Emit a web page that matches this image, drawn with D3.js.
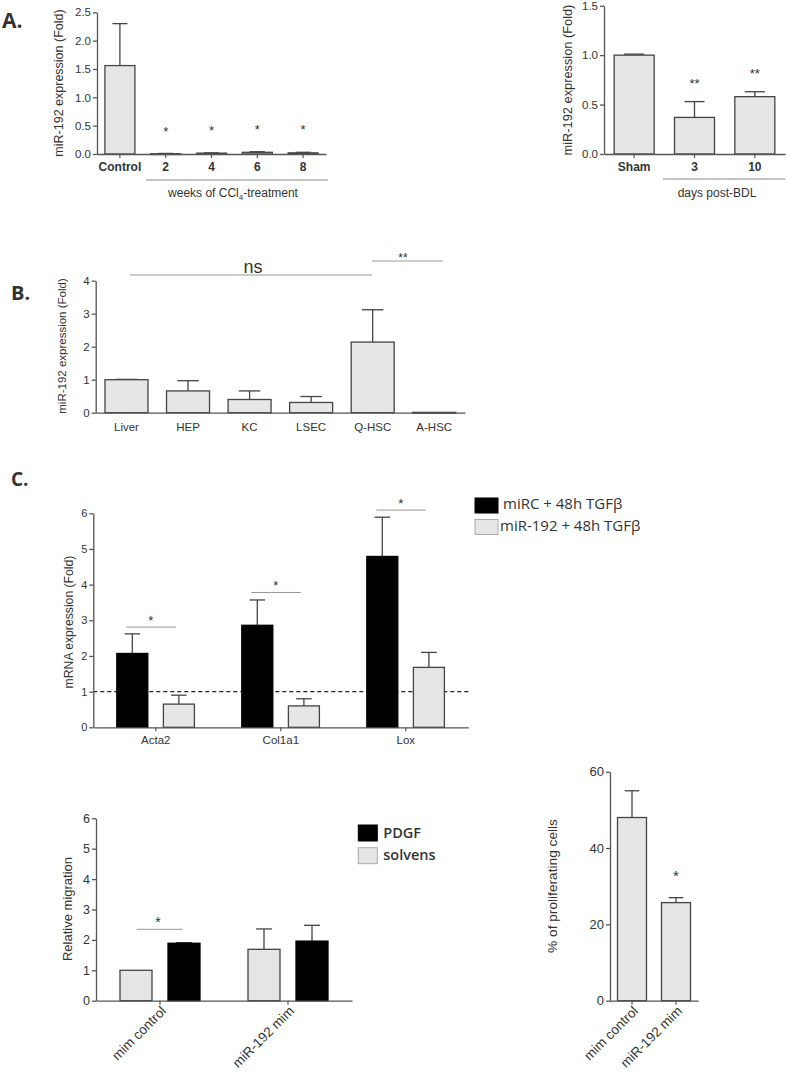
<!DOCTYPE html>
<html><head><meta charset="utf-8">
<script src="https://cdn.jsdelivr.net/npm/d3@7"></script>
<style>
body{margin:0;background:#fff;}
svg{display:block;}
text{font-family:"Liberation Sans",Arial,sans-serif;fill:#333;}
</style></head>
<body><svg id="c" width="787" height="1080"></svg>
<script>
// ---------- DATA ----------
// Panel A left
const aLCats = ["Control","2","4","6","8"];
const aLVals = [1.56,0.005,0.015,0.03,0.02];
const aLErr  = [2.30,0.010,0.020,0.040,0.030];
const aLSig  = ["","*","*","*","*"];
const aLTicks = [0,0.5,1.0,1.5,2.0,2.5];
// Panel A right
const aRCats = ["Sham","3","10"];
const aRVals = [1.00,0.37,0.58];
const aRErr  = [1.01,0.53,0.63];
const aRSig  = ["","**","**"];
const aRTicks = [0,0.5,1.0,1.5];
// Panel B
const bCats = ["Liver","HEP","KC","LSEC","Q-HSC","A-HSC"];
const bVals = [1.00,0.66,0.40,0.31,2.14,0.01];
const bErr  = [1.01,0.97,0.66,0.49,3.12,0.01];
const bTicks = [0,1,2,3,4];
// Panel C top
const cTCats = ["Acta2","Col1a1","Lox"];
const cTMiRC = [2.07,2.86,4.79];
const cTMiRCErr = [2.62,3.57,5.89];
const cTMiR192 = [0.65,0.60,1.68];
const cTMiR192Err = [0.90,0.80,2.10];
const cTSigY = [2.81,3.78,6.09];
const cTTicks = [0,1,2,3,4,5,6];
const cTLegend = ["miRC + 48h TGFβ","miR-192 + 48h TGFβ"];
// Panel C bottom left
const cMCats = ["mim control","miR-192 mim"];
const cMSolvens = [1.00,1.69];
const cMSolvensErr = [1.00,2.36];
const cMPDGF = [1.89,1.96];
const cMPDGFErr = [1.91,2.48];
const cMTicks = [0,1,2,3,4,5,6];
const cMLegend = ["PDGF","solvens"];
// Panel C bottom right
const cPCats = ["mim control","miR-192 mim"];
const cPVals = [48.0,25.7];
const cPErr  = [55.0,27.0];
const cPSig  = ["","*"];
const cPTicks = [0,20,40,60];

// ---------- DRAW ----------
const svg = d3.select("#c");
const LIGHT = "#e6e6e6", DARK = "#000", LINE = "#444", AX = "#555";

function axes(g, x, y, o) {
  const ya = g.append("g").attr("transform",`translate(${o.x0},0)`)
    .call(d3.axisLeft(y).tickValues(o.ticks).tickFormat(o.fmt).tickSize(4).tickSizeOuter(0));
  ya.selectAll("path,line").attr("stroke",AX).attr("stroke-width",1.3);
  ya.selectAll("text").style("font-size",o.tickFs+"px").attr("fill","#333").attr("x",-6);
  const xa = g.append("g").attr("transform",`translate(0,${o.y0})`)
    .call(d3.axisBottom(x).tickSize(o.xTick).tickSizeOuter(0).tickFormat(o.xFmt || (d=>d)));
  xa.select("path").attr("stroke",AX).attr("stroke-width",1.3);
  xa.selectAll("line").attr("stroke",AX).attr("stroke-width",1.2);
  xa.selectAll("text").style("font-size",o.xFs+"px").style("font-weight",o.xW||"normal").attr("fill","#333").attr("y",o.xDy||8);
  return xa;
}
function bars(g, cx, y, vals, errs, bw, fill, y0) {
  vals.forEach((v,i)=>{
    const c = cx(i);
    if (errs && errs[i] > v) {
      g.append("line").attr("x1",c).attr("x2",c).attr("y1",y(v)).attr("y2",y(errs[i])).attr("stroke",LINE).attr("stroke-width",1.3);
      g.append("line").attr("x1",c-bw*0.25).attr("x2",c+bw*0.25).attr("y1",y(errs[i])).attr("y2",y(errs[i])).attr("stroke",LINE).attr("stroke-width",1.3);
    }
    g.append("rect").attr("x",c-bw/2).attr("y",y(v)).attr("width",bw).attr("height",Math.max(y0-y(v),0.8))
      .attr("fill",fill).attr("stroke",fill===DARK?"#000":LINE).attr("stroke-width",1.3);
  });
}
function ylabel(g, x, cy, txt, fs) {
  g.append("text").attr("transform",`translate(${x},${cy}) rotate(-90)`).attr("text-anchor","middle")
    .style("font-size",fs+"px").text(txt);
}
function letter(x,y,t,fs){
  svg.append("text").attr("x",x).attr("y",y).style("font-family","'Open Sans',sans-serif").style("font-weight","bold")
    .style("font-size",fs+"px").attr("fill","#111").text(t);
}

// ---- Panel A left ----
{
  const g = svg.append("g");
  const o = {x0:97,x1:326,y0:154,y1:12.3,ticks:aLTicks,fmt:d3.format(".1f"),tickFs:11.5,xTick:4,xFs:12,xW:"bold"};
  const y = d3.scaleLinear().domain([0,2.5]).range([o.y0,o.y1]);
  const x = d3.scaleBand().domain(aLCats).range([o.x0,o.x1]);
  const cx = i => x(aLCats[i]) + x.bandwidth()/2;
  bars(g,cx,y,aLVals,aLErr,30,LIGHT,o.y0);
  axes(g,x,y,o);
  aLSig.forEach((s,i)=>{ if(s) g.append("text").attr("x",cx(i)).attr("y",y(aLErr[i]+0.42)+6).attr("text-anchor","middle").style("font-size","13px").text(s); });
  ylabel(g,63,83,"miR-192 expression (Fold)",12.5);
  g.append("line").attr("x1",146).attr("x2",328).attr("y1",180).attr("y2",180).attr("stroke","#888").attr("stroke-width",1);
  const t = g.append("text").attr("x",233).attr("y",197).attr("text-anchor","middle").style("font-size","12px").attr("fill","#555");
  t.append("tspan").text("weeks of CCl");
  t.append("tspan").attr("dy",3).style("font-size","8px").text("4");
  t.append("tspan").attr("dy",-3).text("-treatment");
}
// ---- Panel A right ----
{
  const g = svg.append("g");
  const o = {x0:604,x1:785,y0:154,y1:5.7,ticks:aRTicks,fmt:d3.format(".1f"),tickFs:11.5,xTick:4,xFs:12,xW:"bold"};
  const y = d3.scaleLinear().domain([0,1.5]).range([o.y0,o.y1]);
  const x = d3.scaleBand().domain(aRCats).range([o.x0,o.x1]);
  const cx = i => x(aRCats[i]) + x.bandwidth()/2;
  bars(g,cx,y,aRVals,aRErr,40,LIGHT,o.y0);
  axes(g,x,y,o);
  aRSig.forEach((s,i)=>{ if(s) g.append("text").attr("x",cx(i)).attr("y",y(aRErr[i])-14).attr("text-anchor","middle").style("font-size","13px").attr("fill","#444").text(s); });
  ylabel(g,572,80,"miR-192 expression (Fold)",12.8);
  g.append("line").attr("x1",663).attr("x2",785).attr("y1",179).attr("y2",179).attr("stroke","#888").attr("stroke-width",1);
  g.append("text").attr("x",717).attr("y",197).attr("text-anchor","middle").style("font-size","12px").attr("fill","#555").text("days post-BDL");
}
letter(2,28,"A.",21);

// ---- Panel B ----
{
  const g = svg.append("g");
  const o = {x0:95.7,x1:465,y0:412.7,y1:280.7,ticks:bTicks,fmt:d3.format("d"),tickFs:11.5,xTick:0,xFs:11.5,xDy:10};
  const y = d3.scaleLinear().domain([0,4]).range([o.y0,o.y1]);
  const x = d3.scaleBand().domain(bCats).range([o.x0,o.x1]);
  const cx = i => x(bCats[i]) + x.bandwidth()/2;
  bars(g,cx,y,bVals,bErr,43,LIGHT,o.y0);
  axes(g,x,y,o);
  ylabel(g,66,346,"miR-192 expression (Fold)",11.5);
  g.append("line").attr("x1",130).attr("x2",372).attr("y1",275).attr("y2",275).attr("stroke","#999").attr("stroke-width",1);
  g.append("text").attr("x",253).attr("y",273).attr("text-anchor","middle").style("font-size","18px").attr("fill","#555").text("ns");
  g.append("line").attr("x1",372).attr("x2",443).attr("y1",261).attr("y2",261).attr("stroke","#999").attr("stroke-width",1);
  g.append("text").attr("x",403).attr("y",262).attr("text-anchor","middle").style("font-size","12px").attr("fill","#555").text("**");
}
letter(11,300,"B.",20);

// ---- Panel C top ----
{
  const g = svg.append("g");
  const o = {x0:93.3,x1:468.3,y0:727.3,y1:513.3,ticks:cTTicks,fmt:d3.format("d"),tickFs:11,xTick:4,xFs:11.5,xDy:9};
  const y = d3.scaleLinear().domain([0,6]).range([o.y0,o.y1]);
  const x = d3.scaleBand().domain(cTCats).range([o.x0,o.x1]);
  const gc = i => x(cTCats[i]) + x.bandwidth()/2;
  g.append("line").attr("x1",o.x0).attr("x2",o.x1).attr("y1",y(1)).attr("y2",y(1)).attr("stroke","#222").attr("stroke-width",1.1).attr("stroke-dasharray","4,3");
  bars(g,i=>gc(i)-23.5,y,cTMiRC,cTMiRCErr,31,DARK,o.y0);
  bars(g,i=>gc(i)+23.1,y,cTMiR192,cTMiR192Err,31,LIGHT,o.y0);
  axes(g,x,y,o);
  cTSigY.forEach((v,i)=>{
    g.append("line").attr("x1",gc(i)-29.4).attr("x2",gc(i)+20).attr("y1",y(v)).attr("y2",y(v)).attr("stroke","#999").attr("stroke-width",1);
    g.append("text").attr("x",gc(i)-5).attr("y",y(v)-2).attr("text-anchor","middle").style("font-size","13px").text("*");
  });
  ylabel(g,73,622,"mRNA expression (Fold)",12.2);
  // legend
  const lg = svg.append("g");
  [DARK,LIGHT].forEach((f,i)=>{
    lg.append("rect").attr("x",475).attr("y",498+i*21.5).attr("width",23).attr("height",15).attr("fill",f).attr("stroke",f===DARK?"#000":"#aaa");
  });
  lg.append("text").attr("x",503).attr("y",509).style("font-family","'Open Sans',sans-serif").style("font-size","15px").attr("fill","#222").text(cTLegend[0]);
  lg.append("text").attr("x",500).attr("y",531).style("font-family","'Open Sans',sans-serif").style("font-size","15px").attr("fill","#222").text(cTLegend[1]);
}
letter(11,486,"C.",19);

// ---- Panel C bottom left ----
{
  const g = svg.append("g");
  const o = {x0:96,x1:352,y0:1000.7,y1:818.3,ticks:cMTicks,fmt:d3.format("d"),tickFs:12.5,xTick:4,xFs:13.5,xDy:8};
  const y = d3.scaleLinear().domain([0,6]).range([o.y0,o.y1]);
  const x = d3.scaleBand().domain(cMCats).range([o.x0,o.x1]);
  const gc = i => x(cMCats[i]) + x.bandwidth()/2;
  bars(g,i=>gc(i)-24,y,cMSolvens,cMSolvensErr,32,LIGHT,o.y0);
  bars(g,i=>gc(i)+24,y,cMPDGF,cMPDGFErr,32,DARK,o.y0);
  const xa = axes(g,x,y,o);
  xa.selectAll("text").attr("text-anchor","end").attr("transform","rotate(-45)").attr("x",-3).attr("y",8).attr("dy","0.35em");
  g.append("line").attr("x1",136.7).attr("x2",182.7).attr("y1",929.3).attr("y2",929.3).attr("stroke","#999").attr("stroke-width",1);
  g.append("text").attr("x",158).attr("y",927).attr("text-anchor","middle").style("font-size","14px").text("*");
  ylabel(g,72,909,"Relative migration",13);
  const lg = svg.append("g");
  [DARK,LIGHT].forEach((f,i)=>{
    lg.append("rect").attr("x",358.3).attr("y",825+i*22.7).attr("width",19).attr("height",16).attr("fill",f).attr("stroke",f===DARK?"#000":"#aaa");
  });
  lg.append("text").attr("x",383.3).attr("y",838).style("font-family","'Open Sans',sans-serif").style("font-weight","600").style("font-size","14.5px").attr("fill","#222").text(cMLegend[0]);
  lg.append("text").attr("x",383.3).attr("y",860).style("font-family","'Open Sans',sans-serif").style("font-weight","600").style("font-size","14.5px").attr("fill","#222").text(cMLegend[1]);
}

// ---- Panel C bottom right ----
{
  const g = svg.append("g");
  const o = {x0:610,x1:698,y0:1000.7,y1:771.7,ticks:cPTicks,fmt:d3.format("d"),tickFs:13,xTick:4,xFs:13.5,xDy:8};
  const y = d3.scaleLinear().domain([0,60]).range([o.y0,o.y1]);
  const x = d3.scaleBand().domain(cPCats).range([o.x0,o.x1]);
  const cx = i => x(cPCats[i]) + x.bandwidth()/2;
  bars(g,cx,y,cPVals,cPErr,29,LIGHT,o.y0);
  const xa = axes(g,x,y,o);
  xa.selectAll("text").attr("text-anchor","end").attr("transform","rotate(-45)").attr("x",-3).attr("y",8).attr("dy","0.35em");
  cPSig.forEach((s,i)=>{ if(s) g.append("text").attr("x",cx(i)).attr("y",y(cPErr[i])-17).attr("text-anchor","middle").style("font-size","15px").text(s); });
  ylabel(g,557,886,"% of proliferating cells",13.7);
}
</script></body></html>
